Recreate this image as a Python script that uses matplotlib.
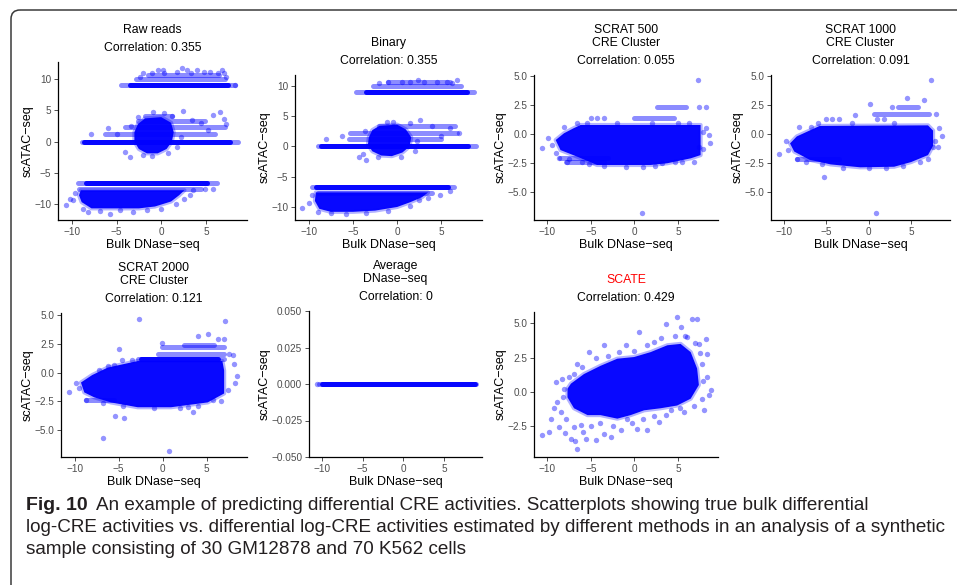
import matplotlib.pyplot as plt
from matplotlib.patches import FancyBboxPatch, Polygon
from matplotlib.ticker import FixedLocator, FuncFormatter

plt.rcParams['font.family'] = ['Liberation Sans', 'DejaVu Sans']

BLUE = "#0000ff"
W, H = 957, 585

titles = ["Raw reads", "Binary", "SCRAT 500\nCRE Cluster", "SCRAT 1000\nCRE Cluster",
          "SCRAT 2000\nCRE Cluster", "Average\nDNase-seq", "SCATE"]
correlations = ["0.355", "0.355", "0.055", "0.091", "0.121", "0", "0.429"]
x_ticks = [-10, -5, 0, 5]
y_ticks = [[-10, -5, 0, 5, 10], [-10, -5, 0, 5, 10],
           [-5.0, -2.5, 0.0, 2.5, 5.0], [-5.0, -2.5, 0.0, 2.5, 5.0], [-5.0, -2.5, 0.0, 2.5, 5.0],
           [-0.05, -0.025, 0.0, 0.025, 0.05], [-2.5, 0.0, 2.5, 5.0]]

# --- raw reads: (y, x_start, x_end) rows of stacked points, dense clouds, loose points
raw_solid = [(9.0, -3.5, 7.5), (0.0, -8.6, 7.7), (-6.57, -8.4, 5.1)]
raw_light = [(9.0, -4.5, 8.3), (10.05, -2.8, 7.1), (10.6, -1.5, 6.5), (0.0, -8.9, 8.6),
             (1.26, -6.3, 6.0), (2.33, -4.1, 7.1), (3.23, -2.6, 4.9), (4.1, -1.8, 1.2),
             (-6.57, -9.3, 6.2), (-7.64, -9.2, 4.5)]
raw_clouds = [
    [(-1.8, 3.7), (0.0, 3.9), (1.1, 3.0), (1.4, 1.5), (1.2, 0.0), (0.6, -1.2), (-0.4, -1.9),
     (-1.6, -1.9), (-2.5, -1.2), (-3.0, 0.0), (-3.0, 1.5), (-2.6, 2.8)],
    [(-9.0, -7.8), (2.6, -7.8), (2.0, -8.6), (1.1, -9.6), (-0.7, -10.4), (-2.5, -10.7),
     (-4.1, -10.7), (-7.8, -10.7), (-8.9, -9.7), (-9.2, -8.6)],
]
raw_points = [(-2.0, 10.9), (-1.0, 10.9), (0.3, 10.9), (1.8, 11.1), (3.3, 10.9), (4.8, 11.1),
              (6.3, 10.9), (7.0, 10.9), (0.2, 11.4), (2.9, 11.4), (4.0, 11.4), (6.8, 11.4),
              (2.3, 11.76), (-0.36, 11.5), (5.5, 11.2), (-2.4, 10.4), (7.2, 10.4), (8.3, 9.0),
              (-7.82, 1.26), (-5.96, 2.22), (-4.09, -1.67), (-3.53, -2.47), (2.44, 4.83),
              (6.54, 4.72), (5.8, 4.2), (7.29, 2.86), (7.0, 3.6), (-0.9, 4.8), (0.3, 4.6),
              (1.2, 4.1), (-2.6, 3.9), (-2.0, -2.2), (-1.0, -2.3), (0.8, -1.9), (1.8, -0.8),
              (2.2, 0.8), (-3.4, 2.5), (-5.0, 1.26), (3.5, 3.5), (4.5, 2.9), (5.2, 1.8),
              (-10.62, -10.09), (-9.87, -9.4), (-8.8, -10.73), (-5.77, -11.53), (-3.2, -11.2),
              (-1.6, -11.0), (3.56, -7.8), (4.86, -7.64), (5.8, -7.64), (-9.6, -8.2),
              (-8.2, -11.2), (-6.9, -11.1), (0.0, -10.8), (1.6, -10.0), (2.6, -9.2),
              (3.2, -8.5), (-10.2, -9.2), (-4.6, -11.0)]

# --- binary
bin_solid = [(9.0, -3.5, 7.9), (0.0, -8.6, 8.0), (-6.7, -9.2, 5.8)]
bin_light = [(9.0, -4.7, 8.7), (10.0, -2.7, 7.2), (10.6, -1.0, 6.0), (0.0, -9.0, 8.9),
             (1.2, -5.4, 5.0), (2.3, -5.3, 6.8), (3.4, -2.0, 6.5), (-6.7, -9.6, 6.4),
             (-7.7, -9.0, 4.0)]
bin_clouds = [
    [(-2.0, 3.4), (0.0, 3.6), (1.0, 2.8), (1.6, 1.5), (1.4, 0.0), (0.6, -1.0), (-0.6, -1.6),
     (-1.8, -1.5), (-2.8, -0.8), (-3.3, 0.3), (-3.2, 1.5), (-2.8, 2.7)],
    [(-9.2, -7.6), (3.5, -7.6), (2.8, -8.4), (1.5, -9.2), (0.0, -10.0), (-2.5, -10.6),
     (-5.0, -10.8), (-7.5, -10.8), (-8.8, -10.3), (-9.3, -9.0)],
]
bin_points = [(-1.0, 10.7), (0.5, 10.7), (1.5, 10.7), (2.4, 11.0), (3.0, 10.7), (4.5, 10.7),
              (5.6, 10.7), (6.8, 11.0), (-2.0, 10.5), (6.2, 10.5),
              (-4.3, -1.7), (-3.5, -2.3), (-3.9, -1.2), (2.6, 4.3), (-0.5, 4.0), (1.5, 3.9),
              (-8.1, 1.2), (-6.2, 1.7), (4.0, 3.3), (6.0, 3.0), (5.0, 1.8), (-2.2, -1.8),
              (0.4, -1.7), (2.0, -0.8), (7.0, 2.2), (-1.2, 4.0), (-3.6, 2.5), (2.2, 0.9),
              (-10.8, -10.1), (-10.0, -9.3), (-5.8, -11.1), (-9.0, -10.9), (-7.5, -11.0),
              (-3.5, -11.0), (-1.0, -10.6), (1.5, -9.8), (3.5, -8.5), (4.8, -8.0), (6.0, -7.4),
              (-9.6, -8.0), (2.5, -8.9)]

# --- SCRAT 500
s500_solid = []
s500_light = [(1.41, -0.05, 4.5), (2.3, 2.6, 5.9), (-2.02, -8.6, -3.0), (-2.42, -7.9, -3.5)]
s500_clouds = [
    [(-9.06, -0.51), (-8.1, 0.07), (-7.0, 0.5), (-6.2, 0.78), (7.6, 0.78), (7.6, -1.8),
     (6.46, -2.08), (3.78, -2.5), (1.86, -2.65), (-4.3, -2.65), (-6.57, -1.94), (-8.5, -1.37)],
]
s500_points = [(7.34, 4.64), (0.83, -6.8), (-5.0, 1.41), (-4.3, 1.41), (-3.5, 1.41), (7.4, 2.3),
               (8.26, 2.3), (-10.6, -1.17), (-9.94, -0.36), (-8.1, 0.64), (-8.68, -2.02),
               (-7.72, -2.37), (-6.0, -2.4), (8.18, 0.49), (8.57, -0.08), (8.68, -0.79),
               (7.4, -1.08), (6.84, -2.42), (5.5, -2.42), (3.2, -2.5), (-6.6, 0.95), (-5.5, 0.95),
               (-9.5, -0.9), (-9.0, -1.6), (-5.2, -2.6), (-3.5, -2.75), (-1.0, -2.8), (1.0, -2.8),
               (2.4, -2.7), (4.6, -2.4), (7.9, 0.2), (7.9, -1.3), (-2.0, 0.95), (2.0, 0.95),
               (5.0, 0.95), (6.3, 0.95), (-7.5, -2.1)]

# --- SCRAT 1000
s1000_solid = []
s1000_light = [(1.7, 0.6, 7.1), (2.33, 3.5, 5.8), (-2.1, -8.5, -3.5)]
s1000_clouds = [
    [(-9.3, -0.8), (-8.5, -0.2), (-7.0, 0.3), (-5.8, 0.7), (7.0, 0.75), (7.6, 0.3), (7.6, -1.0),
     (7.0, -1.8), (5.0, -2.4), (3.0, -2.8), (-1.0, -2.85), (-4.5, -2.6), (-7.0, -2.2), (-8.8, -1.5)],
]
s1000_points = [(7.4, 4.6), (4.5, 3.1), (6.5, 2.95), (0.1, 2.6), (2.7, 2.3), (-5.3, -3.7),
                (0.8, -6.75), (-10.6, -1.7), (-8.2, 0.6), (8.6, -0.2), (8.3, 0.5), (7.6, -1.1),
                (-5.1, 1.33), (-4.3, 1.33), (-3.5, 1.33), (-1.6, 1.6), (1.0, 1.33), (1.8, 1.33),
                (-9.6, -1.4), (-8.5, -2.1), (-7.4, -2.4), (-5.5, -2.6), (6.0, -2.4), (7.0, -2.1),
                (2.0, -2.9), (8.0, 1.7), (7.8, -0.6), (-6.8, 0.6), (-9.8, -0.6), (-3.0, -2.9),
                (0.0, -2.95), (4.0, -2.7), (8.2, -1.1), (-6.0, 0.95), (-2.0, 0.95), (3.0, 0.95)]

# --- SCRAT 2000
s2000_solid = [(1.17, -2.45, 6.26)]
s2000_light = [(1.17, -2.8, 7.0), (2.41, 2.47, 5.9), (2.23, -0.1, 7.0), (1.6, -0.5, 7.0),
               (-2.35, -8.7, -5.5)]
s2000_clouds = [
    [(-9.28, -0.85), (-8.0, -0.2), (-6.24, 0.45), (-2.83, 1.02), (6.8, 1.02), (7.0, 0.2),
     (7.0, -1.8), (5.13, -2.58), (0.96, -3.0), (-2.83, -3.0), (-5.87, -2.58), (-7.76, -2.14),
     (-8.9, -1.71)],
]
s2000_points = [(-2.64, 4.71), (7.13, 4.48), (3.99, 3.18), (5.13, 3.33), (6.26, 2.98), (7.0, 2.98),
                (-0.07, 2.55), (-4.92, 2.03), (-4.65, 1.11), (-5.37, -3.73), (-4.35, -3.9),
                (-6.81, -5.66), (0.69, -6.78), (3.42, -3.38), (2.85, -3.0), (-10.6, -1.71),
                (-9.84, -0.9), (7.97, 1.51), (8.16, 0.74), (8.46, -0.27), (8.23, -0.9),
                (6.64, -2.43), (5.7, -2.35), (-8.7, -2.35), (-6.24, 0.59), (-5.5, 0.7),
                (-7.2, 0.2), (-9.5, -1.3), (-3.5, 1.1), (-1.0, -3.1), (2.0, -3.1), (4.0, -2.9),
                (7.4, -1.5), (7.6, 1.6), (-6.8, -2.6), (-4.5, -2.9)]

# --- average DNase-seq: every prediction is zero
avg_solid = [(0.0, -9.9, 8.7)]
avg_light = [(0.0, -10.3, 8.9)]
avg_clouds = []
avg_points = [(-10.6, 0.0)]

# --- SCATE
scate_solid = []
scate_light = []
scate_clouds = [
    [(-7.3, 0.6), (-5.8, 1.3), (-3.9, 1.9), (-1.97, 2.42), (-0.05, 2.54), (1.86, 2.9), (3.78, 3.4),
     (5.3, 3.5), (6.46, 2.9), (7.2, 1.7), (7.4, 0.5), (6.46, -0.5), (4.9, -1.0), (3.0, -1.2),
     (1.1, -1.35), (-0.44, -1.7), (-1.97, -1.96), (-3.9, -1.7), (-5.4, -1.7), (-6.95, -1.2),
     (-7.7, -0.4), (-7.7, 0.23)],
]
scate_points = [(-10.59, -3.18), (-9.83, -2.93), (-9.63, -1.96), (-8.68, -2.57), (-8.48, -1.47),
                (-8.87, -0.74), (-8.1, 0.23), (-9.06, 0.72), (-8.29, 0.96), (-7.33, -3.42),
                (-6.57, -4.15), (-5.61, -3.42), (-4.46, -3.54), (-3.5, -3.05), (-2.74, -3.3),
                (-1.59, -2.81), (-0.82, -1.96), (0.33, -2.69), (1.48, -2.81), (2.82, -2.2),
                (4.16, -1.35), (5.69, -1.47), (8.0, -1.35), (8.57, -0.26), (8.76, 0.11),
                (8.38, 1.08), (8.38, 2.79), (8.18, 3.88), (7.23, 5.34), (6.65, 5.34), (4.93, 5.46),
                (5.31, 4.73), (3.59, 4.98), (2.25, 3.64), (0.52, 4.37), (-1.01, 3.4), (-3.5, 3.4),
                (-5.23, 2.91), (-6.57, 2.06), (-7.53, 1.08), (6.08, 4.0), (7.42, 3.52),
                (-8.0, -3.0), (-7.0, -2.6), (-6.2, -2.4), (-5.0, -2.5), (-4.0, -2.3), (-7.9, -2.0),
                (-6.8, -3.6), (-5.9, -2.9), (-2.5, -2.5), (-0.3, -2.3), (1.0, -2.0), (2.2, -1.8),
                (3.6, -1.7), (5.2, -1.2), (6.8, -1.0), (7.8, -0.5), (7.9, 0.8), (7.8, 2.0),
                (7.5, 2.8), (6.9, 3.6), (5.8, 4.1), (4.6, 4.1), (3.0, 3.9), (1.4, 3.4),
                (0.0, 3.0), (-1.8, 2.9), (-3.0, 2.6), (-4.4, 2.5), (-6.0, 1.8), (-7.0, 1.3),
                (-8.2, -0.4), (-9.2, -1.2)]

panels = [
    (raw_solid, raw_light, raw_clouds, raw_points),
    (bin_solid, bin_light, bin_clouds, bin_points),
    (s500_solid, s500_light, s500_clouds, s500_points),
    (s1000_solid, s1000_light, s1000_clouds, s1000_points),
    (s2000_solid, s2000_light, s2000_clouds, s2000_points),
    (avg_solid, avg_light, avg_clouds, avg_points),
    (scate_solid, scate_light, scate_clouds, scate_points),
]

# axes boxes in pixels: left, top, right, bottom
boxes = [(58, 62, 247, 220), (295, 75, 482, 220), (534, 75, 718, 220), (771, 75, 950, 220),
         (61, 313, 247, 457), (309, 311, 482, 457), (534, 312, 718, 457)]
ylims = [(-12.56, 12.72), (-12.15, 11.8), (-7.37, 5.07), (-7.37, 5.07), (-7.33, 5.2),
         (-0.05, 0.05), (-4.76, 5.83)]
yfmts = ['%d', '%d', '%.1f', '%.1f', '%.1f', '%.3f', '%.1f']


def minus(fmt):
    return FuncFormatter(lambda v, pos: (fmt % v).replace('-', '\u2212'))


def draw_panel(ax, solid, light, clouds, points):
    for verts in clouds:
        # faint rim first, then the saturated core on top
        ax.add_patch(Polygon(verts, closed=True, fc='none', ec=BLUE, lw=3, alpha=0.3,
                             joinstyle='round'))
        ax.add_patch(Polygon(verts, closed=True, fc=BLUE, ec='none', alpha=0.97))
    for y, x0, x1 in light:
        ax.plot([x0, x1], [y, y], color=BLUE, alpha=0.45, lw=3.6, solid_capstyle='round')
    for y, x0, x1 in solid:
        ax.plot([x0, x1], [y, y], color=BLUE, alpha=0.95, lw=3.6, solid_capstyle='round')
    if points:
        xs, ys = zip(*points)
        ax.scatter(xs, ys, s=15, color=BLUE, alpha=0.42, linewidths=0)


fig = plt.figure(figsize=(W / 100, H / 100), dpi=100)

# page background: frame and caption
bg = fig.add_axes([0, 0, 1, 1], zorder=-1)
bg.set_xlim(0, W)
bg.set_ylim(H, 0)
bg.axis('off')
bg.add_patch(FancyBboxPatch((11, 10), 1000, 700, boxstyle="round,pad=0,rounding_size=9",
                            fc='none', ec='#3a3a3a', lw=1.1))

cap_size = 13.6
fig_lbl = bg.text(26, 505, "Fig. 10", fontsize=cap_size + 0.4, fontweight='bold', color='#231f20',
                  va='center', ha='left')
bg.annotate("An example of predicting differential CRE activities. Scatterplots showing true bulk differential",
            xy=(1, 0.5), xycoords=fig_lbl, xytext=(6, 0), textcoords='offset points',
            va='center', ha='left', fontsize=cap_size, color='#231f20')
bg.text(26, 528, "log-CRE activities vs. differential log-CRE activities estimated by different methods "
        "in an analysis of a synthetic", fontsize=cap_size, color='#231f20', va='center', ha='left')
bg.text(26, 550, "sample consisting of 30 GM12878 and 70 K562 cells", fontsize=cap_size,
        color='#231f20', va='center', ha='left')

for i, (solid, light, clouds, points) in enumerate(panels):
    l, t, r, b = boxes[i]
    ax = fig.add_axes([l / W, 1 - b / H, (r - l) / W, (b - t) / H])
    draw_panel(ax, solid, light, clouds, points)
    ax.set_xlim(-11.55, 9.6)
    ax.set_ylim(*ylims[i])
    ax.xaxis.set_major_locator(FixedLocator(x_ticks))
    ax.yaxis.set_major_locator(FixedLocator(y_ticks[i]))
    ax.xaxis.set_major_formatter(minus('%d'))
    ax.yaxis.set_major_formatter(minus(yfmts[i]))
    for side in ('top', 'right'):
        ax.spines[side].set_visible(False)
    for side in ('left', 'bottom'):
        ax.spines[side].set_linewidth(0.9)
        ax.spines[side].set_color('black')
    ax.tick_params(length=2.8, width=0.6, color='#333333', labelsize=7.2,
                   labelcolor='#4d4d4d', pad=2)
    ax.set_xlabel("Bulk DNase\u2212seq", fontsize=9, labelpad=2)
    ax.set_ylabel("scATAC\u2212seq", fontsize=9, labelpad=0.5)

    # subtitle line, then the title lines stacked above it
    ax.annotate("Correlation: " + correlations[i], xy=(0.5, 1), xycoords='axes fraction',
                xytext=(0, 10), textcoords='offset points', ha='center', va='center', fontsize=8.8)
    lines = titles[i].split("\n")
    for k, line in enumerate(reversed(lines)):
        ax.annotate(line.replace('-', '\u2212'), xy=(0.5, 1), xycoords='axes fraction',
                    xytext=(0, 23 + 9.4 * k), textcoords='offset points', ha='center',
                    va='center', fontsize=8.8,
                    color='red' if titles[i] == "SCATE" else 'black')

fig.savefig("out.png", dpi=100)
